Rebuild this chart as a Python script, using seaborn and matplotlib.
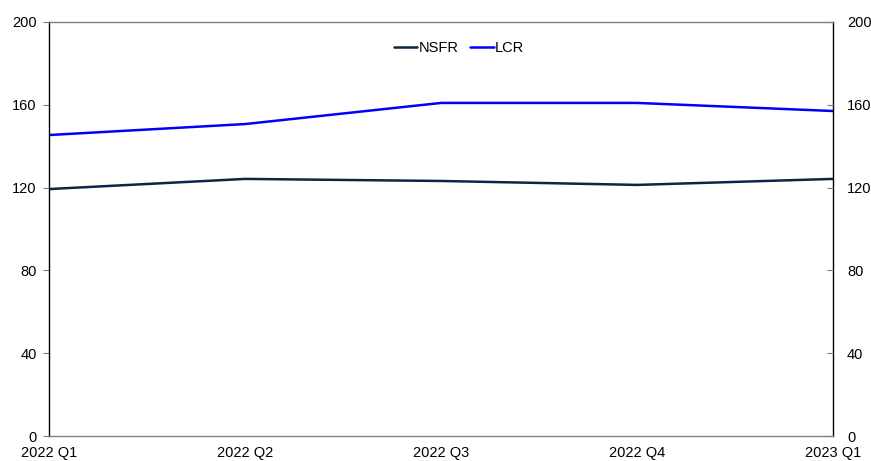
import matplotlib
matplotlib.use("Agg")
import matplotlib.pyplot as plt
import seaborn as sns
import pandas as pd

quarters = ["2022 Q1", "2022 Q2", "2022 Q3", "2022 Q4", "2023 Q1"]
nsfr = [119.3, 124.2, 123.2, 121.3, 124.2]
lcr = [145.4, 150.7, 160.9, 160.9, 157.0]
y_ticks = [0, 40, 80, 120, 160, 200]

sns.set_theme(style="white")
plt.rcParams["font.family"] = ["Liberation Sans", "DejaVu Sans"]
plt.rcParams["text.color"] = "black"

df = pd.DataFrame({
    "quarter": quarters * 2,
    "pos": list(range(len(quarters))) * 2,
    "value": nsfr + lcr,
    "series": ["NSFR"] * len(quarters) + ["LCR"] * len(quarters),
})

fig = plt.figure(figsize=(8.71, 4.61), dpi=100)
ax = fig.add_axes([0.0566, 0.0542, 0.8998, 0.8981])

sns.lineplot(data=df, x="pos", y="value", hue="series",
             palette={"NSFR": "#0b2545", "LCR": "#0000ff"},
             linewidth=1.8, ax=ax, legend=True)

ax.set_xlim(0, len(quarters) - 1)
ax.set_ylim(0, 200)
ax.set_xticks(range(len(quarters)))
ax.set_xticklabels(quarters)
ax.set_yticks(y_ticks)
ax.set_yticklabels([str(t) for t in y_ticks])
ax.set_xlabel("")
ax.set_ylabel("")

ax.tick_params(axis="y", direction="out", length=4, width=0.8, colors="#808080",
               labelcolor="black", labelsize=10.5, pad=5)
ax.tick_params(axis="x", direction="in", length=4, width=0.8, colors="#808080",
               labelsize=10.5, labelcolor="black", pad=7.5)

for side in ["left", "right"]:
    ax.spines[side].set_color("black")
    ax.spines[side].set_linewidth(1.0)
for side in ["top", "bottom"]:
    ax.spines[side].set_color("#7f7f7f")
    ax.spines[side].set_linewidth(1.0)

ax2 = ax.twinx()
ax2.set_ylim(0, 200)
ax2.set_yticks(y_ticks)
ax2.set_yticklabels([str(t) for t in y_ticks])
ax2.tick_params(axis="y", direction="in", length=4, width=0.8, colors="#808080",
                labelcolor="black", labelsize=10.5, pad=10)
for s in ax2.spines.values():
    s.set_visible(False)

leg = ax.legend(loc="upper center", bbox_to_anchor=(0.523, 0.985), ncol=2,
                frameon=False, fontsize=10.5, handlelength=1.6,
                handletextpad=0.1, columnspacing=0.8)
for h in leg.get_lines():
    h.set_linewidth(1.8)
for t in leg.get_texts():
    t.set_color("black")

fig.savefig("out.png", dpi=100)
